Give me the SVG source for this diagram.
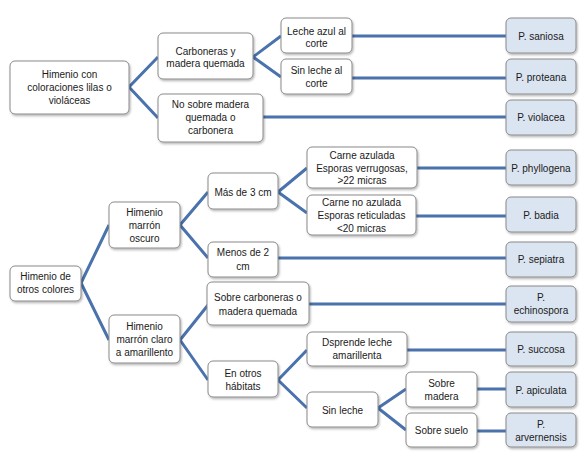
<svg xmlns="http://www.w3.org/2000/svg" width="588" height="468" viewBox="0 0 588 468">
<style>
.b{fill:#ffffff;stroke:#8a8a8a;stroke-width:1;filter:url(#sh)}
.l{fill:#dbe5f1;stroke:#8a8a8a;stroke-width:1;filter:url(#sh)}
text{font-family:"Liberation Sans",Arial,sans-serif;font-size:10px;fill:#1a1a1a;text-anchor:middle}
.c{fill:none;stroke:#4a72ac;stroke-width:3;stroke-linecap:butt}
</style>
<defs>
<filter id="sh" x="-10%" y="-10%" width="125%" height="135%">
<feDropShadow dx="1" dy="1.5" stdDeviation="1" flood-color="#000" flood-opacity="0.3"/>
</filter>
</defs>
<rect width="588" height="468" fill="#ffffff"/>
<g id="connectors">
<path class="c" d="M129,87 L158,57 M129,87 L158,118"/>
<path class="c" d="M253,57 L281,36 M253,57 L281,77"/>
<path class="c" d="M352,36 L506,36 M352,78 L506,78 M263,117 L506,117"/>
<path class="c" d="M81,283 L109,225 M81,283 L109,340"/>
<path class="c" d="M180,225 L208,192 M180,225 L208,258"/>
<path class="c" d="M278,192 L307,168 M278,192 L307,213"/>
<path class="c" d="M417,168 L506,168 M416,216 L506,216 M278,258 L506,258"/>
<path class="c" d="M180,340 L208,305 M180,340 L208,380"/>
<path class="c" d="M309,304 L506,304"/>
<path class="c" d="M278,380 L307,350 M278,380 L307,408"/>
<path class="c" d="M407,350 L506,350"/>
<path class="c" d="M378,408 L406,389 M378,408 L406,430"/>
<path class="c" d="M477,389 L506,389 M477,431 L506,431"/>
</g>
<g id="n1"><rect class="b" x="10" y="61" width="119" height="53" rx="5"/><text x="69.5" y="77.5">Himenio con</text><text x="69.5" y="90.5">coloraciones lilas o</text><text x="69.5" y="103.5">violáceas</text></g>
<g id="n2"><rect class="b" x="158" y="33" width="95" height="46" rx="5"/><text x="205.5" y="54.5">Carboneras y</text><text x="205.5" y="66.5">madera quemada</text></g>
<g id="n3"><rect class="b" x="158" y="94" width="105" height="48" rx="5"/><text x="210.5" y="107.5">No sobre madera</text><text x="210.5" y="120.5">quemada o</text><text x="210.5" y="133.5">carbonera</text></g>
<g id="n4"><rect class="b" x="281" y="18" width="71" height="35" rx="5"/><text x="316.5" y="34.5">Leche azul al</text><text x="316.5" y="46.5">corte</text></g>
<g id="n5"><rect class="b" x="281" y="59" width="71" height="35" rx="5"/><text x="316.5" y="73.5">Sin leche al</text><text x="316.5" y="86.5">corte</text></g>
<g id="n6"><rect class="l" x="506" y="18" width="70" height="35" rx="5"/><text x="541" y="39.5">P. saniosa</text></g>
<g id="n7"><rect class="l" x="506" y="59" width="70" height="35" rx="5"/><text x="541" y="80.5">P. proteana</text></g>
<g id="n8"><rect class="l" x="506" y="100" width="70" height="35" rx="5"/><text x="541" y="120.5">P. violacea</text></g>
<g id="n9"><rect class="b" x="10" y="266" width="71" height="35" rx="5"/><text x="45.5" y="279.5">Himenio de</text><text x="45.5" y="292.5">otros colores</text></g>
<g id="n10"><rect class="b" x="109" y="202" width="71" height="46" rx="5"/><text x="144.5" y="215.5">Himenio</text><text x="144.5" y="228.5">marrón</text><text x="144.5" y="241.5">oscuro</text></g>
<g id="n11"><rect class="b" x="208" y="173" width="70" height="36" rx="5"/><text x="243" y="195.5">Más de 3  cm</text></g>
<g id="n12"><rect class="b" x="208" y="242" width="70" height="35" rx="5"/><text x="243" y="255.5">Menos de 2</text><text x="243" y="269.5">cm</text></g>
<g id="n13"><rect class="b" x="307" y="147" width="110" height="41" rx="5"/><text x="362" y="158.5">Carne azulada</text><text x="362" y="171.5">Esporas verrugosas,</text><text x="362" y="183.5">&gt;22 micras</text></g>
<g id="n14"><rect class="b" x="307" y="195" width="109" height="40" rx="5"/><text x="361.5" y="205.5">Carne no azulada</text><text x="361.5" y="218.5">Esporas reticuladas</text><text x="361.5" y="231.5">&lt;20 micras</text></g>
<g id="n15"><rect class="l" x="506" y="150" width="70" height="35" rx="5"/><text x="541" y="171.5">P. phyllogena</text></g>
<g id="n16"><rect class="l" x="506" y="197" width="70" height="35" rx="5"/><text x="541" y="218.5">P. badia</text></g>
<g id="n17"><rect class="l" x="506" y="242" width="70" height="35" rx="5"/><text x="541" y="262.5">P. sepiatra</text></g>
<g id="n18"><rect class="b" x="109" y="315" width="71" height="48" rx="5"/><text x="144.5" y="329.5">Himenio</text><text x="144.5" y="342.5">marrón claro</text><text x="144.5" y="355.5">a amarillento</text></g>
<g id="n19"><rect class="b" x="207" y="282" width="102" height="43" rx="5"/><text x="258" y="300.5">Sobre carboneras o</text><text x="258" y="314.5">madera quemada</text></g>
<g id="n20"><rect class="b" x="208" y="361" width="70" height="36" rx="5"/><text x="243" y="376.5">En otros</text><text x="243" y="389.5">hábitats</text></g>
<g id="n21"><rect class="l" x="506" y="286" width="70" height="36" rx="5"/><text x="541" y="300.5">P.</text><text x="541" y="313.5">echinospora</text></g>
<g id="n22"><rect class="b" x="307" y="332" width="100" height="34" rx="5"/><text x="357" y="345.5">Dsprende leche</text><text x="357" y="358.5">amarillenta</text></g>
<g id="n23"><rect class="l" x="506" y="332" width="70" height="34" rx="5"/><text x="541" y="352.5">P. succosa</text></g>
<g id="n24"><rect class="b" x="307" y="392" width="71" height="35" rx="5"/><text x="342.5" y="413.5">Sin leche</text></g>
<g id="n25"><rect class="b" x="406" y="372" width="71" height="35" rx="5"/><text x="441.5" y="386.5">Sobre</text><text x="441.5" y="399.5">madera</text></g>
<g id="n26"><rect class="b" x="406" y="413" width="71" height="34" rx="5"/><text x="441.5" y="433.5">Sobre suelo</text></g>
<g id="n27"><rect class="l" x="506" y="372" width="70" height="35" rx="5"/><text x="541" y="393.5">P. apiculata</text></g>
<g id="n28"><rect class="l" x="506" y="413" width="70" height="34" rx="5"/><text x="541" y="427.5">P.</text><text x="541" y="440.5">arvernensis</text></g>
</svg>
